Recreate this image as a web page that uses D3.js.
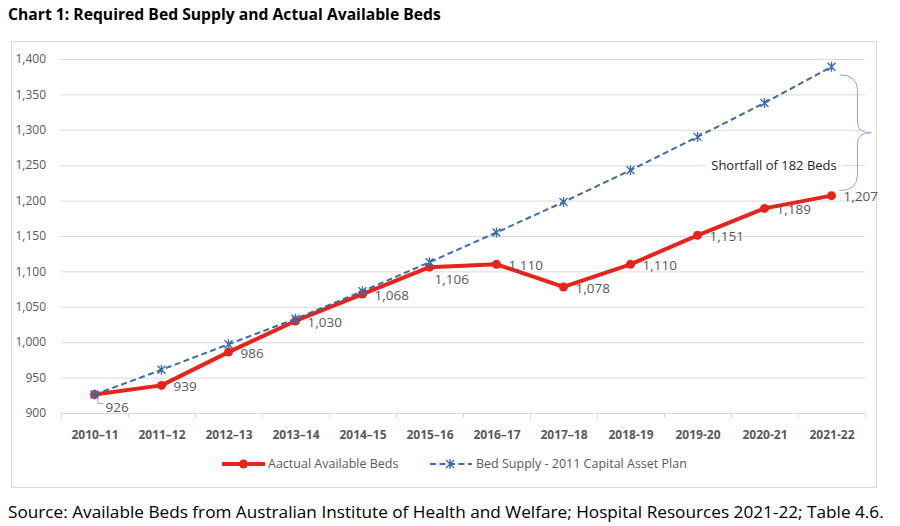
<!DOCTYPE html>
<html>
<head>
<meta charset="utf-8">
<script src="https://cdn.jsdelivr.net/npm/d3@7"></script>
<style>
  body { margin: 0; background: #fff; }
  svg { display: block; font-family: "Open Sans", sans-serif; }
</style>
</head>
<body>
<div id="container"></div>
<script>
/* DATA */
const years = ["2010–11", "2011–12", "2012–13", "2013–14", "2014–15", "2015–16",
  "2016–17", "2017–18", "2018-19", "2019-20", "2020-21", "2021-22"];
const actualBeds = [926, 939, 986, 1030, 1068, 1106, 1110, 1078, 1110, 1151, 1189, 1207];
const bedSupply = [926, 961, 997, 1033, 1072, 1113, 1155, 1198, 1243, 1290, 1338, 1389];
const yTicks = [900, 950, 1000, 1050, 1100, 1150, 1200, 1250, 1300, 1350, 1400];
const actualName = "Aactual Available Beds";
const supplyName = "Bed Supply - 2011 Capital Asset Plan";
const shortfallText = "Shortfall of 182 Beds";

/* CONSTANTS */
const width = 900, height = 526;
const plot = { left: 61, right: 865, top: 59, bottom: 413 };
const red = "#e5241b", blue = "#3d69ad", grey = "#595959";

const svg = d3.select("#container").append("svg")
  .attr("width", width)
  .attr("height", height);

// SCALES
const xScale = d3.scalePoint()
  .domain(years)
  .range([plot.left, plot.right])
  .padding(0.5);
const step = xScale.step();

const yScale = d3.scaleLinear()
  .domain([900, 1400])
  .range([plot.bottom, plot.top]);

// TITLE AND FRAME
svg.append("text")
  .attr("x", 8).attr("y", 20)
  .attr("font-weight", "bold")
  .attr("font-size", 15.7)
  .attr("fill", "#000")
  .text("Chart 1: Required Bed Supply and Actual Available Beds");

svg.append("rect")
  .attr("x", 11.5).attr("y", 41.5)
  .attr("width", 865).attr("height", 446)
  .attr("fill", "#fff")
  .attr("stroke", "#d9d9d9");

// GRIDLINES
svg.append("g")
  .selectAll("line")
  .data(yTicks.filter(d => d > 900))
  .join("line")
  .attr("x1", plot.left).attr("x2", plot.right)
  .attr("y1", d => yScale(d) + 0.5).attr("y2", d => yScale(d) + 0.5)
  .attr("stroke", "#d9d9d9");

// Y AXIS LABELS
svg.append("g")
  .selectAll("text")
  .data(yTicks)
  .join("text")
  .attr("x", 46)
  .attr("y", d => yScale(d))
  .attr("dy", "0.35em")
  .attr("text-anchor", "end")
  .attr("font-size", 12)
  .attr("fill", grey)
  .text(d => d3.format(",")(d));

// X AXIS
const xAxis = d3.axisBottom(xScale).tickSize(0).tickPadding(17);
const gx = svg.append("g")
  .attr("transform", `translate(0,${plot.bottom})`)
  .call(xAxis);
gx.select(".domain").attr("stroke", "#d9d9d9");
gx.selectAll("text")
  .attr("font-family", "Open Sans, sans-serif")
  .attr("font-size", 12)
  .attr("font-weight", "bold")
  .attr("fill", grey);
gx.selectAll(".bound")
  .data(d3.range(years.length + 1))
  .join("line")
  .attr("class", "bound")
  .attr("x1", i => plot.left + i * step + 0.5)
  .attr("x2", i => plot.left + i * step + 0.5)
  .attr("y1", 0).attr("y2", 5)
  .attr("stroke", "#d9d9d9");

// LINES
const lineGen = (vals) => d3.line()
  .x((d, i) => xScale(years[i]))
  .y(d => yScale(d))(vals);

svg.append("path")
  .attr("d", lineGen(actualBeds))
  .attr("fill", "none")
  .attr("stroke", red)
  .attr("stroke-width", 4)
  .attr("stroke-linejoin", "round");

svg.append("g")
  .selectAll("circle")
  .data(actualBeds)
  .join("circle")
  .attr("cx", (d, i) => xScale(years[i]))
  .attr("cy", d => yScale(d))
  .attr("r", 4.5)
  .attr("fill", red);

svg.append("path")
  .attr("d", lineGen(bedSupply))
  .attr("fill", "none")
  .attr("stroke", blue)
  .attr("stroke-width", 2)
  .attr("stroke-dasharray", "6,3.5");

// asterisk markers
const star = (x, y, s) => `M${x - s},${y - s}L${x + s},${y + s}M${x - s},${y + s}L${x + s},${y - s}M${x},${y - s - 1}L${x},${y + s + 1}`;
svg.append("g")
  .selectAll("path")
  .data(bedSupply)
  .join("path")
  .attr("d", (d, i) => star(xScale(years[i]), yScale(d), 4))
  .attr("stroke", blue)
  .attr("stroke-width", 1.4)
  .attr("fill", "none");

// DATA LABELS
const labelPos = (i) => {
  if (i === 0) return { dx: 11, dy: 13 };
  if (i === 5) return { dx: 5, dy: 12 };
  return { dx: 12, dy: 1 };
};
svg.append("g")
  .selectAll("text")
  .data(actualBeds)
  .join("text")
  .attr("x", (d, i) => xScale(years[i]) + labelPos(i).dx)
  .attr("y", (d, i) => yScale(d) + labelPos(i).dy)
  .attr("dy", "0.35em")
  .attr("font-size", 13.5)
  .attr("fill", grey)
  .text(d => d3.format(",")(d));

// leader line for first label
const x0 = xScale(years[0]), y0 = yScale(actualBeds[0]);
svg.append("path")
  .attr("d", `M${x0 + 3.5},${y0 + 4}V${y0 + 9}H${x0 + 9}`)
  .attr("fill", "none")
  .attr("stroke", "#a6a6a6");

// BRACE
const xl = xScale(years[years.length - 1]);
const yt = yScale(bedSupply[bedSupply.length - 1]) + 8;
const yb = yScale(actualBeds[actualBeds.length - 1]) - 5;
const ym = (yt + yb) / 2;
svg.append("path")
  .attr("d", `M${xl + 8},${yt} Q${xl + 26},${yt} ${xl + 26},${yt + 16} V${ym - 10}
    Q${xl + 26},${ym} ${xl + 40},${ym} Q${xl + 26},${ym} ${xl + 26},${ym + 10}
    V${yb - 16} Q${xl + 26},${yb} ${xl + 8},${yb}`)
  .attr("fill", "none")
  .attr("stroke", "#8eaadb")
  .attr("stroke-width", 1);

// shortfall text with white box behind
const sfBox = svg.append("rect").attr("fill", "#fff");
const sf = svg.append("text")
  .attr("x", 774)
  .attr("y", yScale(1250))
  .attr("dy", "0.35em")
  .attr("text-anchor", "middle")
  .attr("font-size", 13)
  .attr("fill", "#262626")
  .text(shortfallText);
const bb = sf.node().getBBox();
sfBox
  .attr("x", bb.x - 5).attr("y", bb.y)
  .attr("width", bb.width + 10).attr("height", bb.height);

// LEGEND
const legY = 464;
const lg = svg.append("g");
lg.append("line")
  .attr("x1", 222).attr("x2", 265)
  .attr("y1", legY).attr("y2", legY)
  .attr("stroke", red).attr("stroke-width", 4);
lg.append("circle")
  .attr("cx", 243.5).attr("cy", legY).attr("r", 4.5)
  .attr("fill", red);
lg.append("text")
  .attr("x", 268).attr("y", legY).attr("dy", "0.35em")
  .attr("font-size", 12.5).attr("fill", grey)
  .text(actualName);

lg.append("line")
  .attr("x1", 430).attr("x2", 472)
  .attr("y1", legY).attr("y2", legY)
  .attr("stroke", blue).attr("stroke-width", 2)
  .attr("stroke-dasharray", "6,3.5");
lg.append("path")
  .attr("d", star(450, legY, 4))
  .attr("stroke", blue).attr("stroke-width", 1.4);
lg.append("text")
  .attr("x", 476).attr("y", legY).attr("dy", "0.35em")
  .attr("font-size", 12.5).attr("fill", grey)
  .text(supplyName);

// SOURCE
svg.append("text")
  .attr("x", 8).attr("y", 518)
  .attr("font-size", 17.2)
  .attr("fill", "#000")
  .text("Source: Available Beds from Australian Institute of Health and Welfare; Hospital Resources 2021-22; Table 4.6.");
</script>
</body>
</html>
